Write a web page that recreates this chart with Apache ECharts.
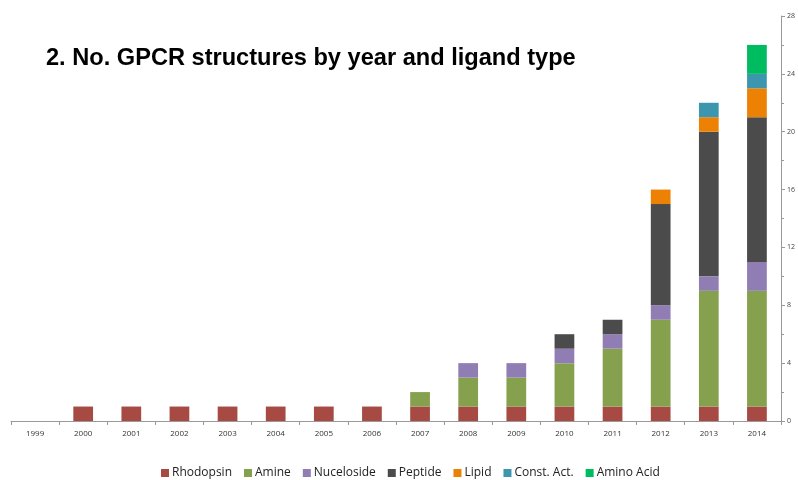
<!DOCTYPE html>
<html><head><meta charset="utf-8">
<script src="https://cdn.jsdelivr.net/npm/echarts@6/dist/echarts.min.js"></script>
<style>html,body{margin:0;padding:0;background:#fff}#c{width:798px;height:480px}</style>
</head><body><div id="c"></div>
<script>
const years = ['1999','2000','2001','2002','2003','2004','2005','2006','2007','2008','2009','2010','2011','2012','2013','2014'];
const rhodopsin  = [0,1,1,1,1,1,1,1,1,1,1,1,1,1,1,1];
const amine      = [0,0,0,0,0,0,0,0,1,2,2,3,4,6,8,8];
const nucleoside = [0,0,0,0,0,0,0,0,0,1,1,1,1,1,1,2];
const peptide    = [0,0,0,0,0,0,0,0,0,0,0,1,1,7,10,10];
const lipid      = [0,0,0,0,0,0,0,0,0,0,0,0,0,1,1,2];
const constAct   = [0,0,0,0,0,0,0,0,0,0,0,0,0,0,1,1];
const aminoAcid  = [0,0,0,0,0,0,0,0,0,0,0,0,0,0,0,2];
const seriesDefs = [
  ['Rhodopsin', rhodopsin, '#A64A43'],
  ['Amine', amine, '#86A14D'],
  ['Nuceloside', nucleoside, '#8F7DB4'],
  ['Peptide', peptide, '#4B4B4B'],
  ['Lipid', lipid, '#EC8104'],
  ['Const. Act.', constAct, '#3C96AE'],
  ['Amino Acid', aminoAcid, '#00BC61']
];
const chart = echarts.init(document.getElementById('c'));
chart.setOption({
  animation: false,
  title: {text: '2. No. GPCR structures by year and ligand type', left: 41, top: 41,
    textStyle: {fontFamily: 'Liberation Sans, Arial', fontWeight: 'bold', fontSize: 23.6, color: '#000'}},
  legend: {top: 462, left: 156, itemWidth: 8, itemHeight: 8, itemGap: 12, icon: 'rect',
    textStyle: {fontFamily: 'Open Sans, Liberation Sans', fontSize: 12, color: '#222', padding: [0,0,0,-2]}},
  grid: {left: 11, right: 17, top: 16, bottom: 59, containLabel: false},
  xAxis: {type: 'category', data: years,
    axisLine: {lineStyle: {color: '#999'}},
    axisTick: {show: true, length: 4, lineStyle: {color: '#999'}},
    axisLabel: {fontSize: 8, color: '#333', margin: 9, fontFamily: 'Open Sans, Liberation Sans'}},
  yAxis: {type: 'value', position: 'right', min: 0, max: 28, interval: 4,
    splitLine: {show: false},
    axisLine: {show: true, lineStyle: {color: '#999'}},
    axisTick: {show: true, length: 4, lineStyle: {color: '#999'}},
    minorTick: {show: true, splitNumber: 2, length: 3, lineStyle: {color: '#999'}},
    axisLabel: {fontSize: 7, color: '#444', margin: 6, fontFamily: 'Open Sans, Liberation Sans'}},
  series: seriesDefs.map(([n, d, c]) => ({name: n, type: 'bar', stack: 'a', data: d,
    barWidth: '41%', itemStyle: {color: c}}))
});
</script></body></html>
